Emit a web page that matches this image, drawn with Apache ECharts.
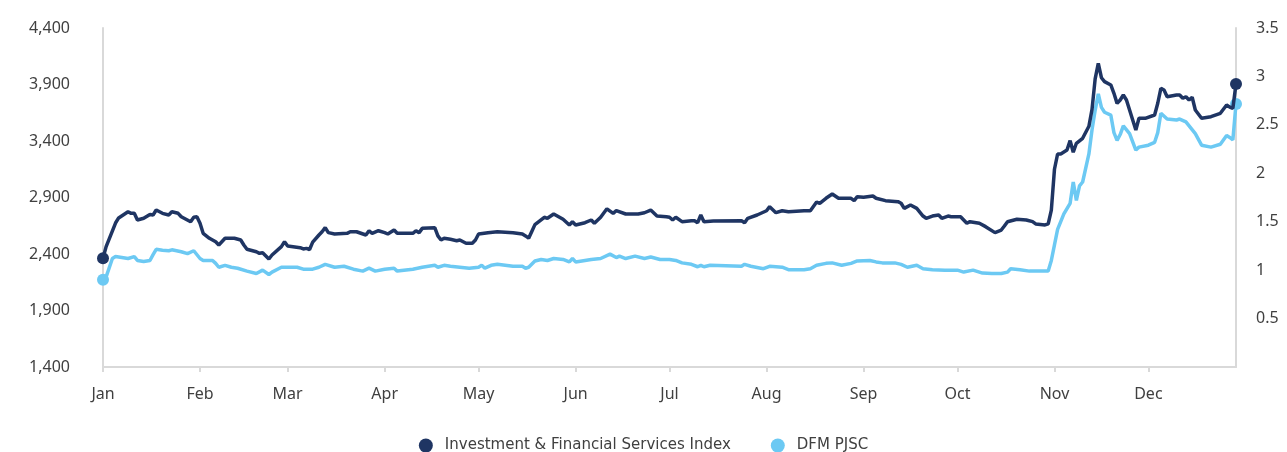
<!DOCTYPE html>
<html>
<head>
<meta charset="utf-8">
<script src="https://cdn.jsdelivr.net/npm/echarts@6/dist/echarts.min.js"></script>
<style>
  html, body { margin: 0; padding: 0; background: #fff; }
  #main { width: 1287px; height: 452px; }
</style>
</head>
<body>
<div id="main"></div>
<script>
// days counted from 1 Jan
var indexDays = [0, 1, 4, 5, 8, 9, 10, 11, 13, 15, 16, 17, 19, 21, 22, 24, 25, 28, 29, 30,
  31, 32, 34, 36, 37, 39, 42, 44, 45, 46, 49, 50, 51, 53, 54, 57, 58, 59, 63, 64,
  65, 66, 67, 69, 70, 71, 72, 74, 78, 79, 81, 84, 85, 86, 88, 90, 91, 93, 94, 99,
  100, 101, 102, 106, 107, 108, 109, 111, 113, 114, 116, 118, 119, 120, 123, 126, 131, 134, 135, 136,
  137, 138, 141, 142, 144, 147, 149, 150, 151, 154, 156, 157, 159, 161, 163, 164, 167, 171, 173, 175,
  177, 180, 181, 182, 183, 185, 188, 189, 190, 191, 192, 195, 204, 205, 206, 209, 212, 213, 215, 217,
  219, 224, 226, 228, 229, 231, 233, 235, 239, 240, 241, 243, 246, 247, 250, 254, 255, 256, 258, 260,
  262, 263, 265, 267, 268, 270, 271, 274, 276, 277, 280, 282, 285, 287, 288, 289, 292, 295, 297, 298,
  301, 302, 303, 304, 305, 306, 308, 309, 310, 311, 313, 315, 316, 317, 318, 319, 320, 322, 323, 324,
  325, 326, 327, 329, 330, 331, 333, 336, 337, 338, 339, 340, 343, 344, 345, 346, 347, 348, 349, 351,
  354, 357, 359, 360, 361, 362];
var indexValues = [2362, 2465, 2674, 2719, 2774, 2760, 2760, 2701, 2716, 2750, 2745, 2789, 2760, 2745, 2774, 2760, 2730, 2686, 2725, 2730,
  2672, 2583, 2539, 2509, 2480, 2539, 2539, 2524, 2480, 2442, 2420, 2406, 2411, 2356, 2391, 2465, 2509, 2471, 2456, 2445,
  2450, 2440, 2505, 2568, 2597, 2633, 2589, 2577, 2583, 2597, 2597, 2568, 2606, 2583, 2606, 2589, 2577, 2612, 2583, 2583,
  2606, 2589, 2627, 2633, 2560, 2524, 2539, 2530, 2518, 2524, 2495, 2495, 2524, 2577, 2589, 2597, 2589, 2577, 2560, 2540,
  2600, 2660, 2725, 2716, 2754, 2707, 2657, 2686, 2657, 2677, 2701, 2672, 2725, 2800, 2760, 2783, 2754, 2754, 2765, 2789,
  2736, 2730, 2725, 2701, 2725, 2686, 2695, 2695, 2677, 2745, 2686, 2692, 2695, 2677, 2716, 2745, 2783, 2819, 2766, 2783,
  2774, 2783, 2783, 2860, 2849, 2893, 2931, 2893, 2893, 2872, 2907, 2902, 2913, 2893, 2872, 2863, 2849, 2804, 2834, 2804,
  2736, 2716, 2736, 2745, 2716, 2736, 2730, 2730, 2672, 2686, 2672, 2642, 2589, 2612, 2648, 2686, 2707, 2701, 2686, 2666,
  2657, 2666, 2789, 3150, 3285, 3285, 3320, 3403, 3300, 3380, 3424, 3530, 3680, 3950, 4087, 3960, 3925, 3896, 3822, 3733,
  3763, 3807, 3763, 3586, 3497, 3601, 3601, 3630, 3734, 3866, 3851, 3792, 3807, 3807, 3778, 3792, 3763, 3787, 3674, 3601,
  3615, 3645, 3719, 3700, 3689, 3905];

var dfmDays = [0, 1, 3, 4, 8, 10, 11, 13, 15, 16, 17, 19, 21, 22, 25, 27, 29, 31, 32, 35,
  36, 37, 39, 41, 43, 46, 49, 51, 53, 54, 57, 59, 62, 64, 67, 69, 71, 74, 77, 80,
  83, 85, 87, 90, 93, 94, 99, 102, 106, 107, 109, 111, 114, 117, 120, 121, 122, 124, 126, 131,
  134, 135, 136, 138, 140, 142, 144, 147, 149, 150, 151, 154, 156, 159, 162, 164, 165, 167, 170, 173,
  175, 178, 181, 183, 185, 188, 190, 191, 192, 194, 204, 205, 207, 211, 213, 217, 219, 224, 226, 228,
  231, 233, 236, 239, 241, 245, 247, 249, 253, 255, 257, 260, 262, 265, 269, 273, 275, 278, 281, 284,
  287, 289, 290, 293, 296, 300, 302, 303, 304, 305, 307, 309, 310, 311, 312, 313, 315, 316, 317, 318,
  319, 320, 322, 323, 324, 325, 326, 328, 330, 331, 334, 336, 337, 338, 340, 343, 344, 346, 349, 351,
  354, 357, 359, 360, 361, 362];
var dfmValues = [0.90, 0.93, 1.12, 1.14, 1.12, 1.14, 1.10, 1.09, 1.10, 1.16, 1.215, 1.205, 1.20, 1.21, 1.19, 1.17, 1.20, 1.12, 1.10, 1.10,
  1.07, 1.03, 1.05, 1.03, 1.02, 0.99, 0.965, 1.00, 0.955, 0.98, 1.03, 1.03, 1.03, 1.01, 1.01, 1.03, 1.06, 1.03, 1.04, 1.01,
  0.99, 1.02, 0.99, 1.01, 1.02, 0.99, 1.01, 1.03, 1.05, 1.03, 1.05, 1.04, 1.03, 1.02, 1.03, 1.05, 1.02, 1.05, 1.06, 1.04,
  1.04, 1.02, 1.03, 1.095, 1.11, 1.10, 1.12, 1.11, 1.085, 1.12, 1.085, 1.10, 1.11, 1.12, 1.165, 1.13, 1.145, 1.12, 1.145, 1.12,
  1.135, 1.11, 1.11, 1.10, 1.075, 1.06, 1.035, 1.05, 1.035, 1.05, 1.04, 1.06, 1.04, 1.015, 1.04, 1.03, 1.005, 1.005, 1.015, 1.05,
  1.07, 1.075, 1.05, 1.07, 1.095, 1.10, 1.085, 1.075, 1.075, 1.06, 1.03, 1.05, 1.015, 1.005, 1.00, 1.00, 0.98, 1.00, 0.97, 0.965,
  0.965, 0.98, 1.015, 1.005, 0.99, 0.99, 0.99, 1.10, 1.26, 1.42, 1.58, 1.69, 1.91, 1.72, 1.87, 1.91, 2.20, 2.45, 2.65, 2.82,
  2.68, 2.63, 2.60, 2.42, 2.34, 2.40, 2.49, 2.41, 2.24, 2.27, 2.29, 2.32, 2.42, 2.62, 2.56, 2.55, 2.56, 2.53, 2.41, 2.29,
  2.27, 2.30, 2.39, 2.37, 2.345, 2.716];

var leftTicks = { min: 1400, max: 4400, step: 500 };
var rightTicks = { min: 0, max: 3.5, step: 0.5 };
var monthNames = ['Jan', 'Feb', 'Mar', 'Apr', 'May', 'Jun', 'Jul', 'Aug', 'Sep', 'Oct', 'Nov', 'Dec'];

var YEAR = 2025;
function toTime(d) {
  return new Date(YEAR, 0, 1 + d).getTime();
}
function pairs(days, vals) {
  return days.map(function (d, i) { return [toTime(d), vals[i]]; });
}

var navy = '#1f3563';
var sky = '#6cc9f3';
var axisGrey = '#d9d9d9';
var labelColor = '#404040';
var font = 'Noto Sans';

function endDots(len) {
  return function (val, params) {
    return (params.dataIndex === 0 || params.dataIndex === len - 1) ? 12 : 0;
  };
}

var myChart = echarts.init(document.getElementById('main'));
myChart.setOption({
  animation: false,
  backgroundColor: '#fff',
  grid: { left: 103, right: 51, top: 28, bottom: 85 },
  legend: {
    top: 433,
    left: 'center',
    icon: 'circle',
    itemWidth: 14,
    itemHeight: 14,
    itemGap: 40,
    textStyle: { color: labelColor, fontSize: 15, fontFamily: 'DejaVu Sans', padding: [0, 0, 0, 7] },
    data: ['Investment & Financial Services Index', 'DFM PJSC']
  },
  xAxis: {
    type: 'time',
    min: toTime(0),
    max: toTime(indexDays[indexDays.length - 1]),
    minInterval: 28 * 86400000,
    maxInterval: 31 * 86400000,
    splitLine: { show: false },
    axisLine: { lineStyle: { color: axisGrey, width: 2 } },
    axisTick: { show: true, length: 5, lineStyle: { color: axisGrey, width: 2 } },
    axisLabel: {
      color: labelColor,
      fontSize: 16,
      fontFamily: font,
      margin: 19,
      showMaxLabel: false,
      formatter: function (v) { return monthNames[new Date(v).getMonth()]; }
    }
  },
  yAxis: [{
    type: 'value',
    min: leftTicks.min,
    max: leftTicks.max,
    interval: leftTicks.step,
    splitLine: { show: false },
    axisLine: { show: true, lineStyle: { color: axisGrey, width: 2 } },
    axisTick: { show: false },
    axisLabel: {
      color: labelColor,
      fontSize: 16,
      fontFamily: font,
      margin: 33,
      formatter: function (v) { return v.toLocaleString('en-US'); }
    }
  }, {
    type: 'value',
    position: 'right',
    min: rightTicks.min,
    max: rightTicks.max,
    interval: rightTicks.step,
    splitLine: { show: false },
    axisLine: { show: true, lineStyle: { color: axisGrey, width: 2 } },
    axisTick: { show: false },
    axisLabel: {
      color: labelColor,
      fontSize: 16,
      fontFamily: font,
      margin: 20,
      showMinLabel: false
    }
  }],
  series: [{
    name: 'DFM PJSC',
    type: 'line',
    yAxisIndex: 1,
    data: pairs(dfmDays, dfmValues),
    color: sky,
    lineStyle: { color: sky, width: 3.5 },
    itemStyle: { color: sky },
    symbol: 'circle',
    showAllSymbol: true,
    symbolSize: endDots(dfmDays.length),
    z: 2
  }, {
    name: 'Investment & Financial Services Index',
    type: 'line',
    yAxisIndex: 0,
    data: pairs(indexDays, indexValues),
    color: navy,
    lineStyle: { color: navy, width: 3.5 },
    itemStyle: { color: navy },
    symbol: 'circle',
    showAllSymbol: true,
    symbolSize: endDots(indexDays.length),
    z: 3
  }]
});
</script>
</body>
</html>
